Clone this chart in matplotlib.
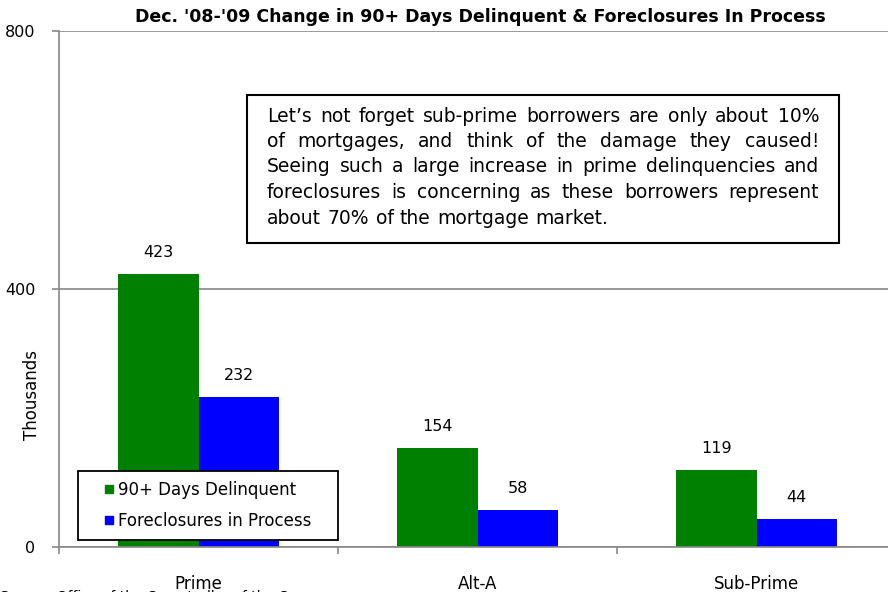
import numpy as np
import matplotlib
matplotlib.use("Agg")
import matplotlib.pyplot as plt
from matplotlib.ticker import FixedLocator
from matplotlib.patches import Rectangle
from matplotlib.lines import Line2D

plt.rcParams['font.family'] = ['DejaVu Sans']

categories = ['Prime', 'Alt-A', 'Sub-Prime']
delinquent = [423, 154, 119]
foreclosures = [232, 58, 44]
series_names = ['90+ Days Delinquent', 'Foreclosures in Process']
series_colors = ['#008000', '#0000FF']
title = "Dec. '08-'09 Change in 90+ Days Delinquent & Foreclosures In Process"
note_lines = [
    "Let\u2019s not forget sub-prime borrowers are only about 10%",
    "of mortgages, and think of the damage they caused!",
    "Seeing such a large increase in prime delinquencies and",
    "foreclosures is concerning as these borrowers represent",
    "about 70% of the mortgage market.",
]
source = "Source: Office of the Comptroller of the Currency"

W, H = 888, 592
fig = plt.figure(figsize=(W / 100, H / 100), dpi=100)
# axes in pixel terms: x 59 -> 896, y 31 -> 547
AX0, AX1, AY0, AY1 = 59, 896, 31, 547
ax = fig.add_axes([AX0 / W, 1 - AY1 / H, (AX1 - AX0) / W, (AY1 - AY0) / H])

x = np.arange(len(categories))
bw = 0.287
b1 = ax.bar(x - bw / 2, delinquent, bw, color=series_colors[0], zorder=2)
b2 = ax.bar(x + bw / 2, foreclosures, bw, color=series_colors[1], zorder=2)

for bars in (b1, b2):
    for r in bars:
        ax.annotate(f"{int(r.get_height())}", (r.get_x() + r.get_width() / 2, r.get_height()),
                    xytext=(0, 10), textcoords='offset points', ha='center', va='bottom',
                    fontsize=11.5)

ax.set_xlim(-0.5, 2.5)
ax.set_ylim(0, 800)
ax.set_yticks([0, 400, 800])
ax.set_yticklabels(['0', '400', '800'], fontsize=11.5)
ax.grid(axis='y', color='#888888', linewidth=1.2, zorder=0)
ax.tick_params(axis='y', length=5, color='#888888', width=1.2, pad=12)

ax.set_xticks(x)
ax.set_xticklabels(categories, fontsize=12)
ax.tick_params(axis='x', which='major', length=0, pad=20)
ax.xaxis.set_minor_locator(FixedLocator([-0.5, 0.5, 1.5, 2.5]))
ax.tick_params(axis='x', which='minor', length=5, color='#888888', width=1.2, direction='out')

for s in ['top', 'right']:
    ax.spines[s].set_visible(False)
for s in ['left', 'bottom']:
    ax.spines[s].set_color('#888888')
    ax.spines[s].set_linewidth(1.2)

fig.text(32 / W, 1 - 395 / H, 'Thousands', rotation=90, ha='center', va='center', fontsize=12)
fig.text(480 / W, 1 - 17 / H, title, ha='center', va='center', fontsize=12.5, fontweight='bold')

# legend box: x 78 -> 338, y 470 -> 540 (pixels)
handles = [Line2D([], [], linestyle='none', marker='s', markersize=6,
                  markerfacecolor=c, markeredgecolor=c) for c in series_colors]
aw, ah = AX1 - AX0, AY1 - AY0
leg = ax.legend(handles, series_names, loc='lower left',
                bbox_to_anchor=((78 - AX0) / aw, (AY1 - 540) / ah, (338 - 78) / aw, 70 / ah),
                mode='expand', fontsize=12, frameon=True, fancybox=False, edgecolor='black',
                framealpha=1, handlelength=2.52, handletextpad=-0.72, borderpad=0.6,
                labelspacing=0.8, borderaxespad=0)
leg.get_frame().set_linewidth(1.3)
leg.set_zorder(5)

# note box, justified text
fig.add_artist(Rectangle((247 / W, 1 - 243 / H), (839 - 247) / W, (243 - 95) / H,
                         transform=fig.transFigure, facecolor='white', edgecolor='black',
                         linewidth=1.5, zorder=4))
renderer = fig.canvas.get_renderer()
left_px, right_px = 267, 819
for i, line in enumerate(note_lines):
    y = 1 - (116 + i * 25.5) / H
    words = line.split(' ')
    texts = [fig.text(0, y, w_, ha='left', va='center', fontsize=13.5, zorder=5) for w_ in words]
    widths = [t.get_window_extent(renderer).width for t in texts]
    if i < len(note_lines) - 1 and len(words) > 1:
        gap = (right_px - left_px - sum(widths)) / (len(words) - 1)
    else:
        gap = 6.5
    xp = left_px
    for t, wd in zip(texts, widths):
        t.set_x(xp / W)
        xp += wd + gap

fig.text(0.0, 1 - 590 / H, source, ha='left', va='top', fontsize=10)

fig.savefig('out.png', dpi=100)
